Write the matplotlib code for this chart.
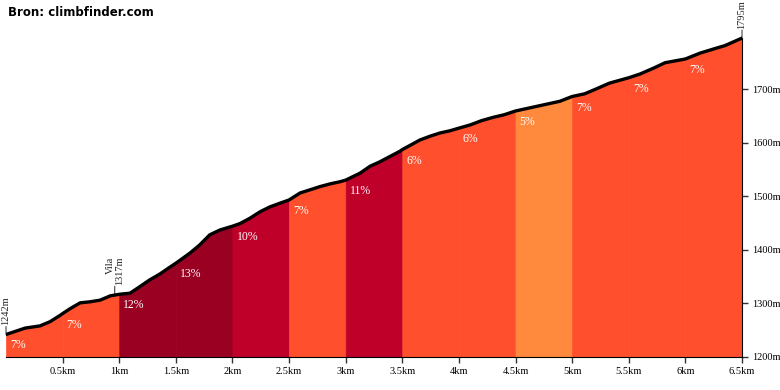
import numpy as np
import matplotlib
matplotlib.use('Agg')
import matplotlib.pyplot as plt

# elevation profile (km, m)
dist_km = [0.0, 0.17, 0.30, 0.39, 0.48, 0.50, 0.565, 0.654, 0.742, 0.83, 0.92, 1.0,
           1.095, 1.18, 1.27, 1.36, 1.45, 1.50, 1.54, 1.625, 1.71, 1.80, 1.89, 2.0,
           2.067, 2.155, 2.244, 2.33, 2.42, 2.5, 2.597, 2.686, 2.774, 2.862, 2.95, 3.0,
           3.127, 3.216, 3.30, 3.39, 3.48, 3.5, 3.57, 3.657, 3.746, 3.834, 3.92, 4.0,
           4.1, 4.2, 4.3, 4.4, 4.5, 4.63, 4.76, 4.89, 5.0,
           5.11, 5.20, 5.33, 5.5, 5.6, 5.73, 5.82, 6.0, 6.13, 6.27, 6.35, 6.5]
elev_m = [1242, 1254, 1258, 1266, 1278, 1281, 1290, 1301, 1303, 1306, 1314, 1317,
          1319, 1331, 1344, 1355, 1368, 1375, 1381, 1394, 1409, 1428, 1437, 1444,
          1449, 1459, 1471, 1480, 1487, 1493, 1506, 1512, 1518, 1523, 1527, 1530,
          1543, 1556, 1564, 1574, 1584, 1587, 1595, 1605, 1612, 1618, 1622, 1627,
          1633, 1641, 1647, 1652, 1659, 1665, 1671, 1677, 1686,
          1691, 1699, 1711, 1721, 1728, 1740, 1749, 1756, 1767, 1776, 1781, 1795]

seg_start = [0.0, 0.5, 1.0, 1.5, 2.0, 2.5, 3.0, 3.5, 4.0, 4.5, 5.0, 5.5, 6.0]
grades = [7, 7, 12, 13, 10, 7, 11, 6, 6, 5, 7, 7, 7]
seg_len = 0.5

y_ticks = [1200, 1300, 1400, 1500, 1600, 1700]
x_ticks = [0.5, 1, 1.5, 2, 2.5, 3, 3.5, 4, 4.5, 5, 5.5, 6, 6.5]
x_labels = ['0.5km', '1km', '1.5km', '2km', '2.5km', '3km', '3.5km', '4km',
            '4.5km', '5km', '5.5km', '6km', '6.5km']

# (km, elevation, text)
marks = [(0.0, 1242, '1242m'), (0.96, 1317, 'Vila\n1317m'), (6.5, 1795, '1795m')]


def grade_color(g):
    if g >= 12:
        return '#990022'
    if g >= 10:
        return '#BF0029'
    if g >= 6:
        return '#FF4F2C'
    return '#FF8A3D'


x = np.array(dist_km)
y = np.array(elev_m)

fig = plt.figure(figsize=(7.8, 3.9), dpi=100)
ax = fig.add_axes([6 / 780, 1 - 357 / 390, 736 / 780, 357 / 390 - 1 + (390 - 30) / 390])
ax.set_xlim(0, 6.5)
ymin = 1200
ymax = 1200 + (357 - 30) / 0.536
ax.set_ylim(ymin, ymax)

for s, g in zip(seg_start, grades):
    m = (x >= s - 1e-9) & (x <= s + seg_len + 1e-9)
    c = grade_color(g)
    ax.fill_between(x[m], ymin, y[m], facecolor=c, edgecolor=c, lw=0.5)

for s, g in zip(seg_start, grades):
    ys = y[np.argmin(abs(x - s))]
    ax.annotate(f'{g}%', (s, ys), xytext=(4, -11), textcoords='offset pixels',
                ha='left', va='center', color='white', fontsize=8.5,
                family='Liberation Serif', zorder=4)

ax.plot(x, y, color='black', lw=2.4, solid_capstyle='round', zorder=5)

for km, h, txt in marks:
    ax.annotate('', (km, h), xytext=(0, 8), textcoords='offset pixels',
                arrowprops=dict(arrowstyle='-', color='#444444', lw=0.8,
                                shrinkA=0, shrinkB=0))
    ax.annotate(txt, (km, h), xytext=(0, 9), textcoords='offset pixels',
                rotation=90, ha='center', va='bottom', multialignment='right',
                fontsize=7.5, family='Liberation Serif', color='#222222',
                linespacing=1.0)

ax.spines['top'].set_visible(False)
ax.spines['left'].set_visible(False)
ax.spines['right'].set_bounds(1200, 1795)
ax.spines['right'].set_linewidth(0.8)
ax.spines['bottom'].set_linewidth(0.8)
ax.yaxis.tick_right()
ax.set_yticks(y_ticks)
ax.set_yticklabels([f'{v}m' for v in y_ticks], family='Liberation Serif', fontsize=7.5)
ax.set_xticks(x_ticks)
ax.set_xticklabels(x_labels, family='Liberation Serif', fontsize=7.5)
ax.tick_params(axis='both', length=4, width=1, color='#333333', pad=3)

fig.text(8 / 780, 1 - 13 / 390, 'Bron: climbfinder.com', fontsize=8.5,
         fontweight='bold', family='DejaVu Sans', va='center', ha='left')

fig.savefig('out.png', dpi=100)
